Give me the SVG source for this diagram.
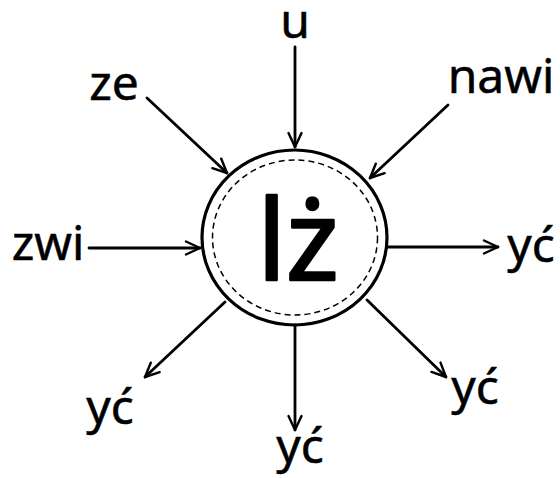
<svg xmlns="http://www.w3.org/2000/svg" width="560" height="478" viewBox="0 0 560 478">
<style>
.lbl{font-family:"Noto Sans","DejaVu Sans",sans-serif;font-size:48px;fill:#000;stroke:#000;stroke-width:0.5;text-anchor:middle}
.big{font-family:"Noto Sans","DejaVu Sans",sans-serif;font-size:112px;fill:#000;stroke:#000;stroke-width:2.5;stroke-linejoin:round;text-anchor:middle}
.edge{stroke:#000;stroke-width:2.8;fill:none;stroke-linecap:round;marker-end:url(#arr)}
</style>
<defs>
<marker id="arr" viewBox="0 0 18 18" refX="16" refY="9" markerWidth="18" markerHeight="18" markerUnits="userSpaceOnUse" orient="auto">
<path d="M2,2.5 L16,9 L2,15.5" fill="none" stroke="#000" stroke-width="2.4" stroke-linecap="round" stroke-linejoin="round"/>
</marker>
</defs>
<g id="center">
<ellipse cx="294.5" cy="237.5" rx="92.5" ry="87.5" fill="#fff" stroke="#000" stroke-width="3.2"/>
<ellipse cx="295" cy="237.5" rx="82.5" ry="77.5" fill="none" stroke="#000" stroke-width="1.5" stroke-dasharray="6 4"/>
<text class="big" x="298" y="280">lż</text>
</g>
<g id="connectors">
<line class="edge" x1="295" y1="47" x2="295" y2="147"/>
<line class="edge" x1="147" y1="98" x2="227" y2="173"/>
<line class="edge" x1="448" y1="105" x2="370" y2="178"/>
<line class="edge" x1="89" y1="248" x2="200" y2="248"/>
<line class="edge" x1="387" y1="247" x2="498" y2="247"/>
<line class="edge" x1="225" y1="302" x2="145" y2="377"/>
<line class="edge" x1="295" y1="325" x2="295" y2="430"/>
<line class="edge" x1="367" y1="300" x2="446" y2="377"/>
</g>
<g id="n-u"><text class="lbl" x="295" y="38">u</text></g>
<g id="n-ze"><text class="lbl" x="114" y="100">ze</text></g>
<g id="n-nawi"><text class="lbl" x="501" y="93">nawi</text></g>
<g id="n-zwi"><text class="lbl" x="48" y="260">zwi</text></g>
<g id="n-yc-right"><text class="lbl" x="531" y="262">yć</text></g>
<g id="n-yc-bl"><text class="lbl" x="110" y="424">yć</text></g>
<g id="n-yc-b"><text class="lbl" x="300" y="463">yć</text></g>
<g id="n-yc-br"><text class="lbl" x="475" y="404">yć</text></g>
</svg>
